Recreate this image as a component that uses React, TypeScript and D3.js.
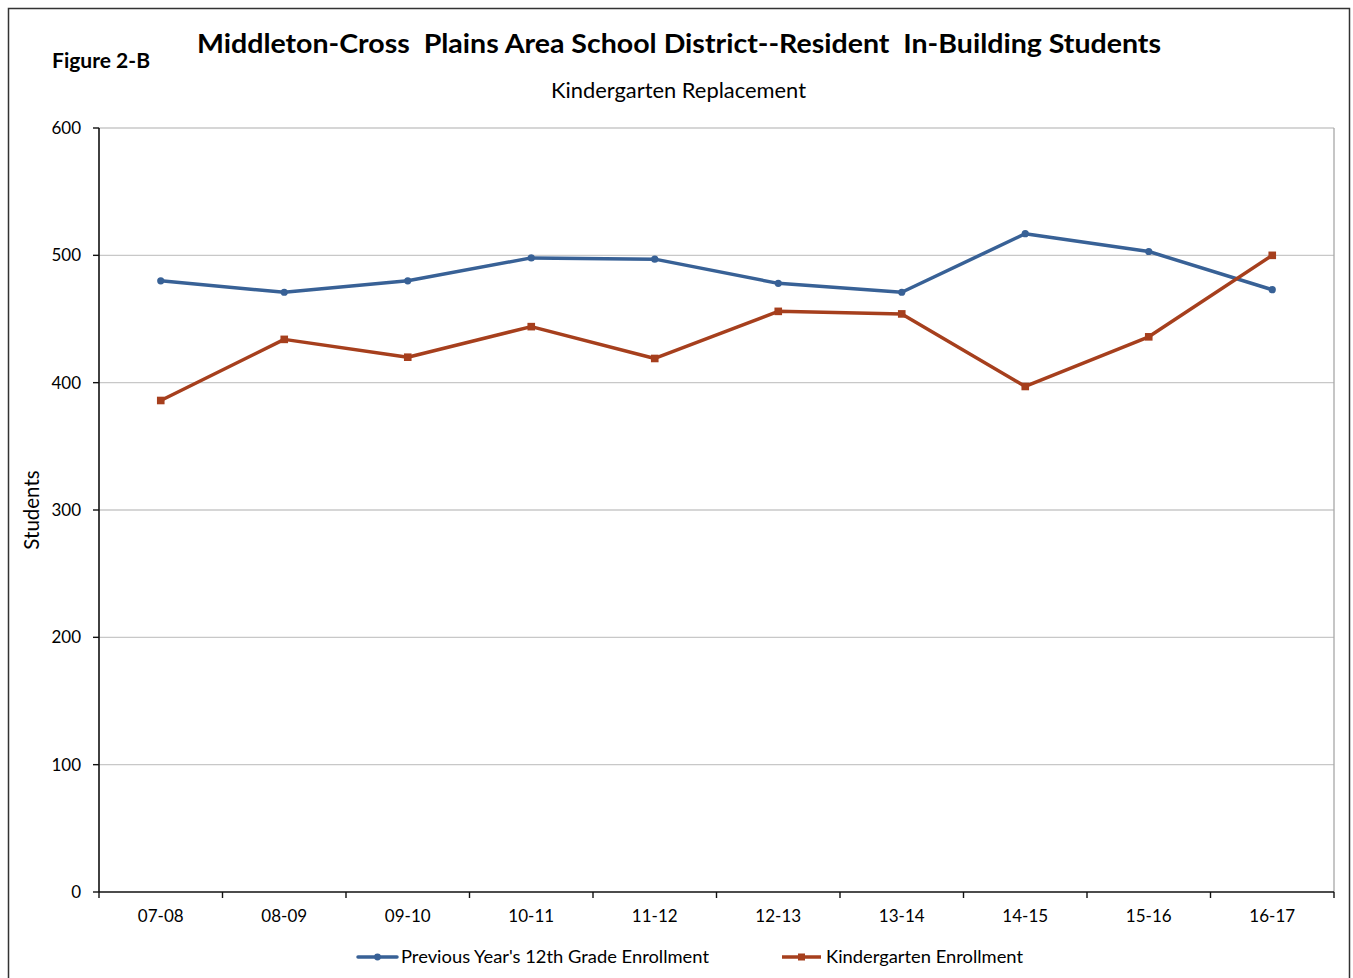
import * as d3 from 'd3'
import { useEffect } from 'react'

const years = ['07-08', '08-09', '09-10', '10-11', '11-12', '12-13', '13-14', '14-15', '15-16', '16-17']
const prevTwelfth = [480, 471, 480, 498, 497, 478, 471, 517, 503, 473]
const kinder = [386, 434, 420, 444, 419, 456, 454, 397, 436, 500]
const yTicks = [0, 100, 200, 300, 400, 500, 600]

const blue = '#386196'
const rust = '#A63F1D'
const font = 'Lato, "Open Sans", sans-serif'

export default function App() {
    useEffect(() => {
        document.body.style.margin = '0'
    }, [])

    const left = 99
    const right = 1334
    const top = 128
    const bottom = 892

    const x = d3.scaleBand().domain(years).range([left, right])
    const y = d3.scaleLinear().domain([0, 600]).range([bottom, top])
    const cx = (d: string) => (x(d) as number) + x.bandwidth() / 2

    const line = d3.line<number>()
        .x((_, i) => cx(years[i]))
        .y(d => y(d))

    const boundaries = years.map(d => x(d) as number).concat([right])

    return (
        <svg width={1353} height={978} style={{ display: 'block', fontFamily: font }}>
            <rect x={0} y={0} width={1353} height={978} fill='#fff' />
            <rect x={8.5} y={8.5} width={1341} height={980} fill='none' stroke='#333' strokeWidth={1.5} />

            <text x={679} y={53} textAnchor='middle' fontSize={27} fontWeight='bold' textLength={964} lengthAdjust='spacingAndGlyphs'
                style={{ whiteSpace: 'pre' }}>
                {'Middleton-Cross  Plains Area School District--Resident  In-Building Students'}
            </text>
            <text x={52} y={68} fontSize={20} fontWeight='bold' textLength={98} lengthAdjust='spacingAndGlyphs'>Figure 2-B</text>
            <text x={678.5} y={98} textAnchor='middle' fontSize={21} textLength={255} lengthAdjust='spacingAndGlyphs'>Kindergarten Replacement</text>

            {yTicks.filter(t => t > 0).map(t => (
                <line key={t} x1={left} x2={right} y1={y(t)} y2={y(t)} stroke='#c8c8c8' strokeWidth={1.3} />
            ))}
            <line x1={right} x2={right} y1={top} y2={bottom} stroke='#a8a8a8' strokeWidth={1.3} />

            <line x1={left} x2={left} y1={top} y2={bottom} stroke='#111' strokeWidth={1.6} />
            <line x1={left} x2={right} y1={bottom} y2={bottom} stroke='#111' strokeWidth={1.6} />

            {yTicks.map(t => (
                <g key={t}>
                    <line x1={left - 6} x2={left} y1={y(t)} y2={y(t)} stroke='#111' strokeWidth={1.4} />
                    <text x={81} y={y(t) + 6} textAnchor='end' fontSize={17}>{t}</text>
                </g>
            ))}

            {boundaries.map((b, i) => (
                <line key={i} x1={b} x2={b} y1={bottom} y2={bottom + 6} stroke='#111' strokeWidth={1.4} />
            ))}
            {years.map(d => (
                <text key={d} x={cx(d)} y={922} textAnchor='middle' fontSize={17}>{d}</text>
            ))}

            <text transform={`translate(39,510) rotate(-90)`} textAnchor='middle' fontSize={20.5}>Students</text>

            <path d={line(prevTwelfth) || ''} fill='none' stroke={blue} strokeWidth={3.5} strokeLinejoin='round' />
            {prevTwelfth.map((v, i) => (
                <circle key={i} cx={cx(years[i])} cy={y(v)} r={3.6} fill={blue} />
            ))}

            <path d={line(kinder) || ''} fill='none' stroke={rust} strokeWidth={3.5} strokeLinejoin='round' />
            {kinder.map((v, i) => (
                <rect key={i} x={cx(years[i]) - 3.8} y={y(v) - 3.8} width={7.6} height={7.6} fill={rust} />
            ))}

            <line x1={358} x2={397} y1={957} y2={957} stroke={blue} strokeWidth={3.5} strokeLinecap='round' />
            <circle cx={377.5} cy={957} r={3.4} fill={blue} />
            <text x={401} y={963} fontSize={17.5} textLength={308} lengthAdjust='spacingAndGlyphs'>Previous Year's 12th Grade Enrollment</text>

            <line x1={782} x2={821} y1={957} y2={957} stroke={rust} strokeWidth={3.5} />
            <rect x={798} y={953.5} width={7} height={7} fill={rust} />
            <text x={826} y={963} fontSize={17.5} textLength={197} lengthAdjust='spacingAndGlyphs'>Kindergarten Enrollment</text>
        </svg>
    )
}
